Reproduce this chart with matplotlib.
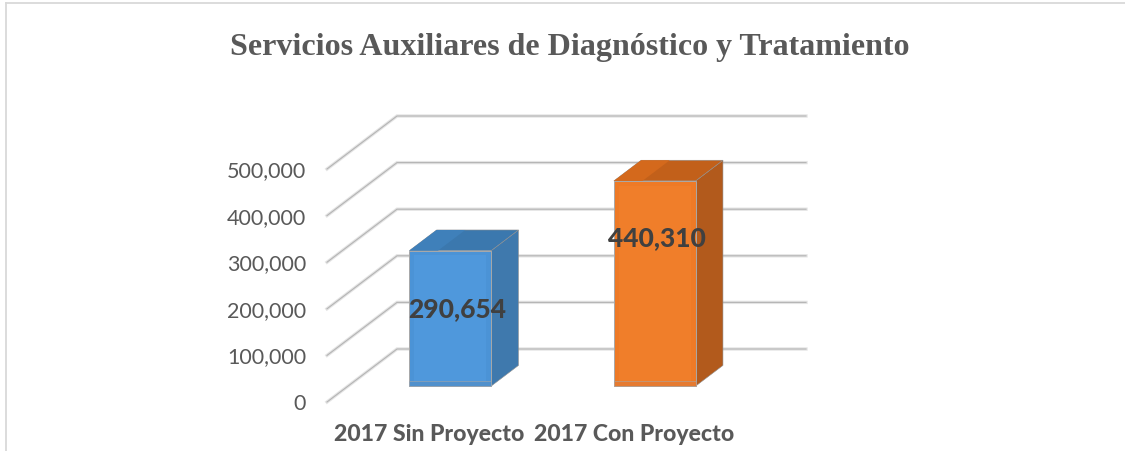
import matplotlib
matplotlib.use('Agg')
import matplotlib.pyplot as plt
from matplotlib.patches import Polygon

categories = ['2017 Sin Proyecto', '2017 Con Proyecto']
values = [290654, 440310]
value_labels = ['290,654', '440,310']
ticks = [0, 100000, 200000, 300000, 400000, 500000]
tick_labels = ['0', '100,000', '200,000', '300,000', '400,000', '500,000']

front_colors = ['#4b93d6', '#ee7a26']
light_colors = ['#4f98dc', '#f07e2a']
base_colors = ['#5090cc', '#e57a30']
side_colors = ['#3f79ad', '#b25a1c']
top_colors = ['#3b78ae', '#c2601a']
top_left_colors = ['#3f80ba', '#d4691c']

# how far the 3d floor goes back, in axis units
DEPTH_X = 70 / 204.5
DEPTH_Y = 53 / 46.6 * 100000
BAR_FRONT = 0.30
BAR_BACK = 0.69
BAR_W = 0.40
# labels were dragged by hand in the original
LABEL_FRAC = [0.687, 0.80]
LABEL_DX = [-0.034, -0.054]
W, H = 1125, 451


def project(x, y, d):
    return (x + d * DEPTH_X, y + d * DEPTH_Y)


fig = plt.figure(figsize=(W / 100, H / 100), dpi=100)
ax = fig.add_axes([327 / W, 1 - 402 / H, 409 / W, 233 / H])
ax.set_xlim(-0.5, 1.5)
ax.set_ylim(0, 500000)
for s in ax.spines.values():
    s.set_visible(False)

# walls
for t in ticks:
    xs = [project(-0.5, t, 0)[0], project(-0.5, t, 1)[0], project(1.5, t, 1)[0]]
    ys = [project(-0.5, t, 0)[1], project(-0.5, t, 1)[1], project(1.5, t, 1)[1]]
    ax.plot(xs, ys, color='#e4e4e4', lw=2.4, clip_on=False, zorder=1, solid_joinstyle='miter')
    ax.plot(xs, ys, color='#b4b4b4', lw=0.8, clip_on=False, zorder=1.1, solid_joinstyle='miter')

# bars
for i, v in enumerate(values):
    l, r = i - BAR_W / 2, i + BAR_W / 2
    p1 = project(l, 0, BAR_FRONT)
    p2 = project(r, 0, BAR_FRONT)
    p3 = project(r, v, BAR_FRONT)
    p4 = project(l, v, BAR_FRONT)
    q2 = project(r, 0, BAR_BACK)
    q3 = project(r, v, BAR_BACK)
    q4 = project(l, v, BAR_BACK)
    ax.add_patch(Polygon([p2, q2, q3, p3], fc=side_colors[i], ec='#8f8f8f', lw=0.4, clip_on=False, zorder=3))
    ax.add_patch(Polygon([p4, p3, q3, q4], fc=top_colors[i], ec='#8f8f8f', lw=0.4, clip_on=False, zorder=3))
    # left half of the top is a bit lighter
    m1 = project(i - 0.06, v, BAR_FRONT)
    m2 = project(i - 0.06, v, BAR_BACK)
    ax.add_patch(Polygon([p4, m1, m2, q4], fc=top_left_colors[i], lw=0, clip_on=False, zorder=3.1))
    ax.add_patch(Polygon([p1, p2, p3, p4], fc=front_colors[i], ec='#a8a8a8', lw=0.7, clip_on=False, zorder=4))
    # inner shading of the front face
    ax.add_patch(Polygon([project(l + 0.025, 12000, BAR_FRONT), project(r - 0.025, 12000, BAR_FRONT),
                          project(r - 0.025, v - 10000, BAR_FRONT), project(l + 0.025, v - 10000, BAR_FRONT)],
                         fc=light_colors[i], lw=0, clip_on=False, zorder=4.1))
    ax.add_patch(Polygon([project(l, 0, BAR_FRONT), project(r, 0, BAR_FRONT),
                          project(r, 12000, BAR_FRONT), project(l, 12000, BAR_FRONT)],
                         fc=base_colors[i], ec='#a8a8a8', lw=0.4, clip_on=False, zorder=4.2))
    cx = project(i, 0, (BAR_FRONT + BAR_BACK) / 2)[0] + LABEL_DX[i]
    cy = v * LABEL_FRAC[i]
    ax.text(cx, cy, value_labels[i], ha='center', va='center', fontsize=19,
            fontweight='black', family='Lato', color='#404040', zorder=6)

ax.set_yticks(ticks)
ax.set_yticklabels(tick_labels, family='Lato', fontsize=15.5, color='#595959')
ax.set_xticks([0, 1])
ax.set_xticklabels(categories, family='Lato', fontsize=16.6, fontweight='black', color='#595959')
ax.tick_params(axis='both', length=0)
ax.tick_params(axis='y', pad=15)
ax.tick_params(axis='x', pad=16)

fig.text(570 / W, 1 - 47 / H, 'Servicios Auxiliares de Diagnóstico y Tratamiento', ha='center', va='center',
         family='Liberation Serif', fontweight='bold', fontsize=23.05, color='#595959')

# outer frame of the embedded chart
fig.add_artist(plt.Line2D([6 / W, 6 / W], [0, 1 - 3 / H], color='#d9d9d9', lw=1.3))
fig.add_artist(plt.Line2D([6 / W, 1], [1 - 3 / H, 1 - 3 / H], color='#d9d9d9', lw=1.3))

fig.savefig('out.png', dpi=100)
